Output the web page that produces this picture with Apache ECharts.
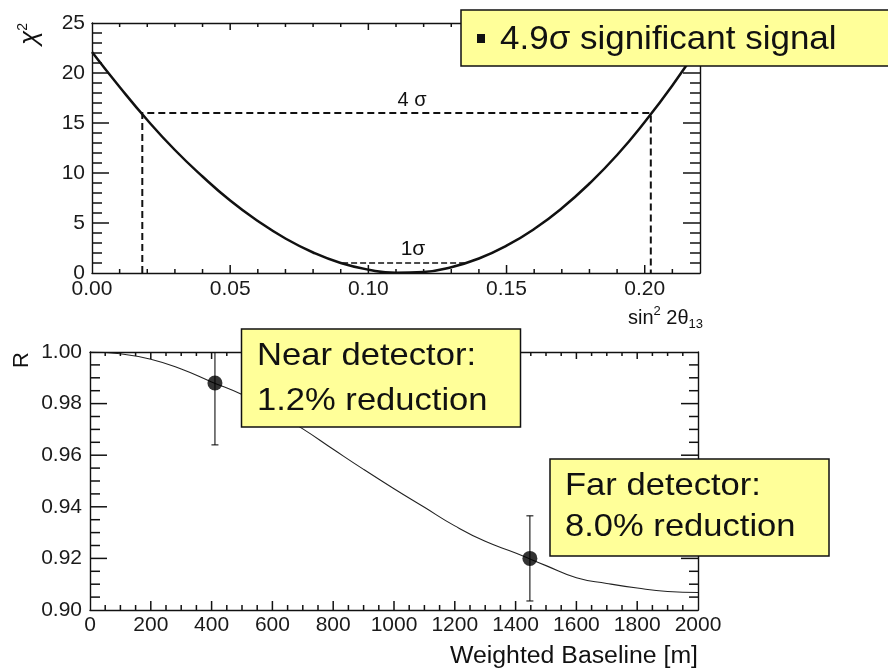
<!DOCTYPE html>
<html>
<head>
<meta charset="utf-8">
<script src="https://cdn.jsdelivr.net/npm/echarts@6/dist/echarts.min.js"></script>
<style>
  html, body { margin: 0; padding: 0; background: #fff; }
  #chart { width: 888px; height: 670px; }
</style>
</head>
<body>
<div id="chart"></div>
<script>
// chi-square scan versus sin^2 2theta13
const sin2Theta = [0.00, 0.01, 0.02, 0.03, 0.04, 0.05, 0.06, 0.07, 0.08, 0.09, 0.10, 0.11,
                   0.12, 0.13, 0.14, 0.15, 0.16, 0.17, 0.18, 0.19, 0.20, 0.21, 0.22];
const chi2 = [22.1, 18.6, 15.3, 12.3, 9.65, 7.25, 5.2, 3.45, 2.05, 1.0, 0.33, 0.02,
              0.1, 0.58, 1.45, 2.73, 4.4, 6.47, 8.95, 11.8, 15.1, 18.75, 22.8];

// confidence levels drawn as dashed intervals
const sigmaChi2 = [16, 1];
const sigmaLow = [0.0182, 0.0905];
const sigmaHigh = [0.2022, 0.1352];

// expected ratio versus weighted baseline
const baseline = [0, 100, 200, 300, 400, 500, 600, 700, 800, 900, 1000,
                  1100, 1200, 1300, 1400, 1500, 1600, 1700, 1800, 1900, 2000];
const ratio = [1.0000, 0.9993, 0.9972, 0.9934, 0.9884, 0.9835, 0.9772, 0.9702, 0.9623, 0.9545, 0.9470,
               0.9398, 0.9326, 0.9266, 0.9221, 0.9172, 0.9125, 0.9103, 0.9085, 0.9072, 0.9068];

// detector measurements
const detectorBaseline = [411, 1447];
const detectorRatio = [0.988, 0.920];
const detectorError = [0.024, 0.0165];

// axis ranges and tick spacing (major / minor)
const chiXRange = [0, 0.22], chiXMajor = 0.05, chiXMinor = 0.01;
const chiYRange = [0, 25], chiYMajor = 5, chiYMinor = 1;
const baseXRange = [0, 2000], baseXMajor = 200, baseXMinor = 50;
const ratioYRange = [0.9, 1.0], ratioYMajor = 0.02, ratioYMinor = 0.005;

const FONT = '"Liberation Sans", Arial, Helvetica, sans-serif';
const INK = '#111';
const FRAME = '#111';

function zip(a, b) { return a.map((v, i) => [v, b[i]]); }

function isMultiple(v, step) {
  const r = v / step;
  return Math.abs(r - Math.round(r)) < 1e-6;
}

// inner tick positions of a range
function tickValues(range, step) {
  const out = [];
  const n = Math.round((range[1] - range[0]) / step);
  for (let i = 1; i < n; i++) out.push(+(range[0] + i * step).toFixed(6));
  return out;
}

const labelStyle = { fontFamily: FONT, fontSize: 21, color: '#1a1a1a' };

function axis(extra) {
  return Object.assign({
    type: 'value',
    z: 20,
    splitLine: { show: false },
    axisLine: { show: true, onZero: false, lineStyle: { color: FRAME, width: 1.4 } },
    axisTick: { show: false },
    minorTick: { show: false },
    axisLabel: { show: false }
  }, extra);
}

const chart = echarts.init(document.getElementById('chart'), null, { renderer: 'canvas' });

// dashed 4 sigma polyline (with drop lines) and 1 sigma segment
const sigma4 = [[sigmaLow[0], 0], [sigmaLow[0], sigmaChi2[0]], [sigmaHigh[0], sigmaChi2[0]], [sigmaHigh[0], 0]];
const sigma1 = [[sigmaLow[1], sigmaChi2[1]], [sigmaHigh[1], sigmaChi2[1]]];

const errorData = detectorBaseline.map((L, i) => [L, detectorRatio[i] - detectorError[i], detectorRatio[i] + detectorError[i]]);

const option = {
  backgroundColor: '#fff',
  animation: false,
  grid: [
    { left: 92, top: 23, width: 608, height: 250, show: false },
    { left: 90, top: 352, width: 608, height: 258, show: false }
  ],
  xAxis: [
    axis({ gridIndex: 0, position: 'bottom', min: chiXRange[0], max: chiXRange[1], interval: chiXMajor,
      axisLabel: Object.assign({ show: true, margin: 6, showMaxLabel: false,
        formatter: v => v.toFixed(2) }, labelStyle) }),
    axis({ gridIndex: 0, position: 'top', min: chiXRange[0], max: chiXRange[1], interval: chiXMajor }),
    axis({ gridIndex: 1, position: 'bottom', min: baseXRange[0], max: baseXRange[1], interval: baseXMajor,
      axisLabel: Object.assign({ show: true, margin: 5, formatter: v => String(v) }, labelStyle) }),
    axis({ gridIndex: 1, position: 'top', min: baseXRange[0], max: baseXRange[1], interval: baseXMajor })
  ],
  yAxis: [
    axis({ gridIndex: 0, position: 'left', min: chiYRange[0], max: chiYRange[1], interval: chiYMajor,
      axisLabel: Object.assign({ show: true, margin: 7 }, labelStyle) }),
    axis({ gridIndex: 0, position: 'right', min: chiYRange[0], max: chiYRange[1], interval: chiYMajor }),
    axis({ gridIndex: 1, position: 'left', min: ratioYRange[0], max: ratioYRange[1], interval: ratioYMajor,
      axisLabel: Object.assign({ show: true, margin: 8, formatter: v => v.toFixed(2) }, labelStyle) }),
    axis({ gridIndex: 1, position: 'right', min: ratioYRange[0], max: ratioYRange[1], interval: ratioYMajor })
  ],
  series: [
    {
      name: 'chi2', type: 'line', xAxisIndex: 0, yAxisIndex: 0,
      data: zip(sin2Theta, chi2), showSymbol: false, smooth: true,
      lineStyle: { color: INK, width: 2.5 }, z: 5
    },
    {
      name: '4 sigma', type: 'line', xAxisIndex: 0, yAxisIndex: 0,
      data: sigma4, showSymbol: false,
      lineStyle: { color: INK, width: 2, type: [7, 4] }, z: 4
    },
    {
      name: '1 sigma', type: 'line', xAxisIndex: 0, yAxisIndex: 0,
      data: sigma1, showSymbol: false,
      lineStyle: { color: INK, width: 1.6, type: [6, 3] }, z: 4
    },
    {
      name: 'ratio', type: 'line', xAxisIndex: 2, yAxisIndex: 2,
      data: zip(baseline, ratio), showSymbol: false, smooth: true,
      lineStyle: { color: '#222', width: 1.1 }, z: 4
    },
    {
      name: 'errors', type: 'custom', xAxisIndex: 2, yAxisIndex: 2, clip: true,
      data: errorData, z: 5,
      renderItem: function (params, api) {
        const x = api.value(0);
        const lo = api.coord([x, api.value(1)]);
        const hi = api.coord([x, api.value(2)]);
        const cap = 3.5;
        const st = { stroke: INK, lineWidth: 1.1 };
        return {
          type: 'group',
          children: [
            { type: 'line', shape: { x1: lo[0], y1: lo[1], x2: hi[0], y2: hi[1] }, style: st },
            { type: 'line', shape: { x1: lo[0] - cap, y1: lo[1], x2: lo[0] + cap, y2: lo[1] }, style: st },
            { type: 'line', shape: { x1: hi[0] - cap, y1: hi[1], x2: hi[0] + cap, y2: hi[1] }, style: st }
          ]
        };
      }
    },
    {
      name: 'detectors', type: 'scatter', xAxisIndex: 2, yAxisIndex: 2,
      data: zip(detectorBaseline, detectorRatio), symbol: 'circle', symbolSize: 15,
      itemStyle: { color: '#000' }, z: 6
    }
  ]
};

chart.setOption(option);

// inward frame ticks, placed through each panel's own axes (drawn as thin filled bars)
const tickEls = [];
function tickBar(x, y, w, h) {
  tickEls.push({ type: 'rect', z: 50, silent: true,
    shape: { x: Math.min(x, x + w), y: Math.min(y, y + h), width: Math.abs(w), height: Math.abs(h) },
    style: { fill: FRAME } });
}
function panelTicks(finder, xRange, yRange, xMajor, xMinor, yMajor, yMinor, len) {
  const t = 1.5;
  tickValues(xRange, xMinor).forEach(v => {
    const major = isMultiple(v - xRange[0], xMajor);
    const pb = chart.convertToPixel(finder, [v, yRange[0]]);
    const pt = chart.convertToPixel(finder, [v, yRange[1]]);
    tickBar(pb[0] - t / 2, pb[1], t, -(major ? len.xb[0] : len.xb[1]));
    tickBar(pt[0] - t / 2, pt[1], t, (major ? len.xt[0] : len.xt[1]));
  });
  tickValues(yRange, yMinor).forEach(v => {
    const major = isMultiple(v - yRange[0], yMajor);
    const pl = chart.convertToPixel(finder, [xRange[0], v]);
    const pr = chart.convertToPixel(finder, [xRange[1], v]);
    tickBar(pl[0], pl[1] - t / 2, (major ? len.yl[0] : len.yl[1]), t);
    tickBar(pr[0], pr[1] - t / 2, -(major ? len.yr[0] : len.yr[1]), t);
  });
}
panelTicks({ xAxisIndex: 0, yAxisIndex: 0 }, chiXRange, chiYRange, chiXMajor, chiXMinor, chiYMajor, chiYMinor,
  { xb: [8, 4], xt: [7, 4], yl: [17, 10], yr: [17, 10] });
panelTicks({ xAxisIndex: 2, yAxisIndex: 2 }, baseXRange, ratioYRange, baseXMajor, baseXMinor, ratioYMajor, ratioYMinor,
  { xb: [9, 5], xt: [7, 4], yl: [17, 10], yr: [17, 9] });

// titles, level labels and callout boxes
const annotations = [
  { type: 'text', x: 30, y: 34, rotation: Math.PI / 2, z: 100,
    style: { text: '{m|χ}{s|2}', align: 'center', verticalAlign: 'middle',
      rich: { m: { fontSize: 26, fontStyle: 'italic', fontFamily: FONT, fill: INK, lineHeight: 28 },
              s: { fontSize: 14, fontFamily: FONT, fill: INK, lineHeight: 14, verticalAlign: 'top' } } } },
  { type: 'text', x: 703, y: 318, z: 100,
    style: { text: '{m|sin}{s|2}{m| 2θ}{b|13}', align: 'right', verticalAlign: 'middle',
      rich: { m: { fontSize: 20, fontFamily: FONT, fill: INK, lineHeight: 26 },
              s: { fontSize: 13, fontFamily: FONT, fill: INK, lineHeight: 14, verticalAlign: 'top' },
              b: { fontSize: 13, fontFamily: FONT, fill: INK, lineHeight: 12, verticalAlign: 'bottom' } } } },
  { type: 'text', x: 22, y: 360, rotation: Math.PI / 2, z: 100,
    style: { text: 'R', fontSize: 22, fontFamily: FONT, fill: INK, align: 'center', verticalAlign: 'middle' } },
  { type: 'text', x: 698, y: 657, scaleX: 1.08, z: 100,
    style: { text: 'Weighted Baseline [m]', fontSize: 23, fontFamily: FONT, fill: INK, align: 'right', verticalAlign: 'middle' } },
  { type: 'text', x: 412, y: 100, z: 100,
    style: { text: '4 σ', fontSize: 20, fontFamily: FONT, fill: INK, align: 'center', verticalAlign: 'middle' } },
  { type: 'text', x: 413, y: 249, z: 100,
    style: { text: '1σ', fontSize: 21, fontFamily: FONT, fill: INK, align: 'center', verticalAlign: 'middle' } },
  { type: 'rect', z: 100, shape: { x: 461, y: 10, width: 440, height: 56 },
    style: { fill: '#ffff99', stroke: INK, lineWidth: 1.5 } },
  { type: 'rect', z: 101, shape: { x: 477, y: 34, width: 8, height: 9 }, style: { fill: INK } },
  { type: 'text', x: 500, y: 40, scaleX: 1.06, z: 101,
    style: { text: '4.9σ significant signal', fontSize: 33, fontFamily: FONT, fill: INK, align: 'left', verticalAlign: 'middle' } },
  { type: 'rect', z: 100, shape: { x: 241.5, y: 329, width: 279, height: 98 },
    style: { fill: '#ffff99', stroke: INK, lineWidth: 1.5 } },
  { type: 'text', x: 257, y: 334, scaleX: 1.08, z: 101,
    style: { text: 'Near detector:\n1.2% reduction', fontSize: 32, lineHeight: 45, fontFamily: FONT, fill: INK, align: 'left', verticalAlign: 'top' } },
  { type: 'rect', z: 100, shape: { x: 550, y: 459, width: 279, height: 97 },
    style: { fill: '#ffff99', stroke: INK, lineWidth: 1.5 } },
  { type: 'text', x: 565, y: 466, scaleX: 1.08, z: 101,
    style: { text: 'Far detector:\n8.0% reduction', fontSize: 32, lineHeight: 41, fontFamily: FONT, fill: INK, align: 'left', verticalAlign: 'top' } }
];

chart.setOption({ graphic: tickEls.concat(annotations) });
</script>
</body>
</html>
